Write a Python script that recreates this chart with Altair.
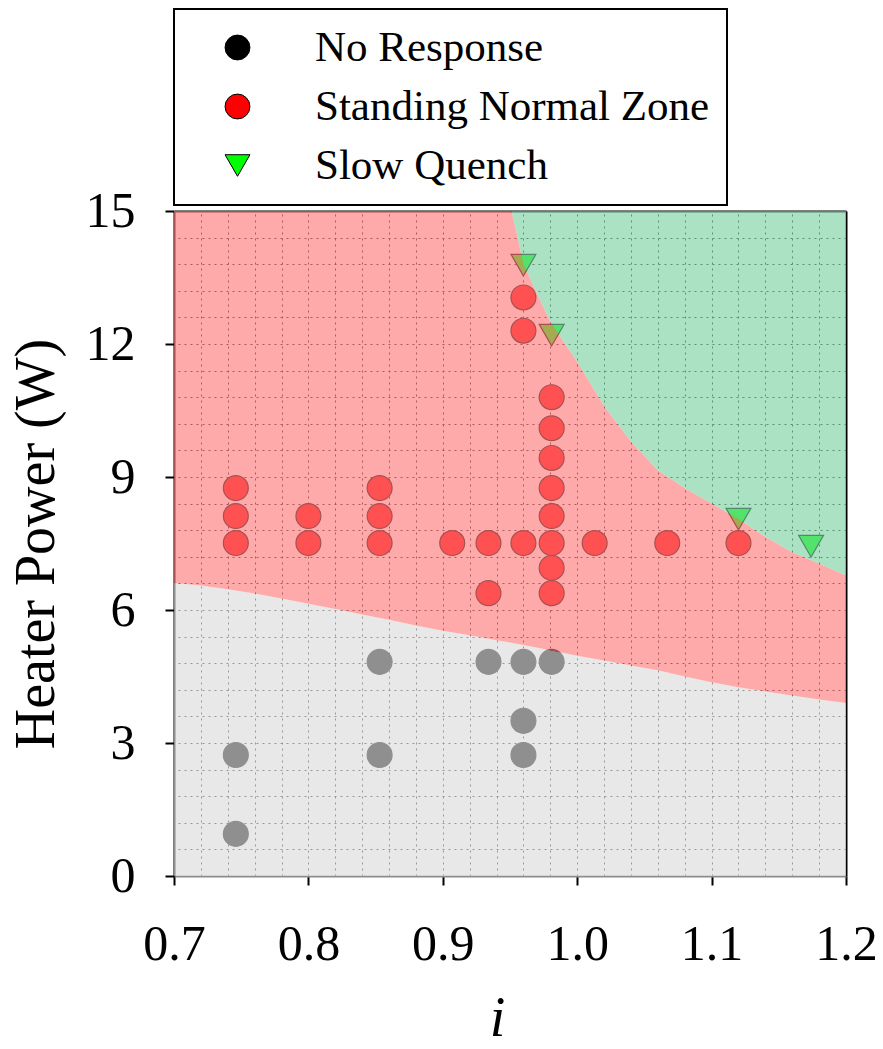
import altair as alt
import pandas as pd

# ---------------- data ----------------
# No Response (black markers)
nr_i = [0.746, 0.746, 0.853, 0.853, 0.934, 0.960, 0.960, 0.960, 0.981]
nr_p = [2.73, 0.95, 4.83, 2.73, 4.83, 4.83, 3.50, 2.73, 4.83]

# Standing Normal Zone (red markers)
snz_i = [0.746, 0.746, 0.746, 0.800, 0.800, 0.853, 0.853, 0.853, 0.907,
         0.934, 0.934, 0.960, 0.960, 0.960,
         0.981, 0.981, 0.981, 0.981, 0.981, 0.981, 0.981, 0.981,
         1.013, 1.067, 1.120]
snz_p = [7.51, 8.12, 8.75, 7.51, 8.12, 7.51, 8.12, 8.75, 7.51,
         7.51, 6.38, 7.51, 12.30, 13.05,
         6.38, 6.95, 7.51, 8.12, 8.75, 9.43, 10.10, 10.80,
         7.51, 7.51, 7.51]

# Slow Quench (green markers)
sq_i = [0.960, 0.981, 1.120, 1.174]
sq_p = [13.78, 12.20, 8.05, 7.44]

categories = ["No Response", "Standing Normal Zone", "Slow Quench"]
cat_colors = ["#000000", "#ff0000", "#00ff00"]
cat_shapes = ["circle", "circle", "triangle-down"]

# Region boundaries read at common i positions
bound_i = [0.70, 0.72, 0.74, 0.76, 0.78, 0.80, 0.82, 0.84, 0.86, 0.88, 0.90,
           0.92, 0.94, 0.951, 0.955, 0.96, 0.98, 1.00, 1.02, 1.04, 1.06,
           1.08, 1.10, 1.12, 1.14, 1.16, 1.18, 1.20]
lower_p = [6.61, 6.55, 6.47, 6.37, 6.26, 6.14, 6.02, 5.90, 5.78, 5.65, 5.53,
           5.43, 5.32, 5.26, 5.24, 5.21, 5.09, 4.97, 4.86, 4.75, 4.64,
           4.50, 4.37, 4.26, 4.16, 4.07, 3.98, 3.90]
upper_p = [15, 15, 15, 15, 15, 15, 15, 15, 15, 15, 15,
           15, 15, 15, 14.5, 13.8, 12.5, 11.6, 10.6, 9.8, 9.15,
           8.75, 8.4, 8.05, 7.65, 7.3, 7.05, 6.78]

x_ticks = [0.7, 0.8, 0.9, 1.0, 1.1, 1.2]
y_ticks = [0, 3, 6, 9, 12, 15]
x_grid = [0.72, 0.74, 0.76, 0.78, 0.80, 0.82, 0.84, 0.86, 0.88, 0.90, 0.92, 0.94,
          0.96, 0.98, 1.00, 1.02, 1.04, 1.06, 1.08, 1.10, 1.12, 1.14, 1.16, 1.18]
y_grid = [0.6, 1.2, 1.8, 2.4, 3.0, 3.6, 4.2, 4.8, 5.4, 6.0, 6.6, 7.2,
          7.8, 8.4, 9.0, 9.6, 10.2, 10.8, 11.4, 12.0, 12.6, 13.2, 13.8, 14.4]

# ---------------- tables ----------------
pts = pd.DataFrame({
    "i": nr_i + snz_i + sq_i,
    "P": nr_p + snz_p + sq_p,
    "Response": [categories[0]] * len(nr_i) + [categories[1]] * len(snz_i) + [categories[2]] * len(sq_i),
})
reg = pd.DataFrame({"i": bound_i, "lower": lower_p, "upper": upper_p})
reg["zero"] = 0
reg["top"] = 15

FONT = "Liberation Serif"
xs = alt.Scale(domain=[0.7, 1.2], nice=False, zero=False)
ys = alt.Scale(domain=[0, 15], nice=False, zero=False)

points = alt.Chart(pts).mark_point(filled=True, size=620, stroke="black",
                                   strokeWidth=1.2, opacity=1).encode(
    x=alt.X("i:Q", scale=xs, axis=alt.Axis(
        orient="bottom", values=x_ticks, format=".1f", grid=False,
        tickSize=9, tickWidth=2, tickColor="black",
        domainColor="#8c8c8c", domainWidth=2,
        labelFont=FONT, labelFontSize=50, labelColor="black", labelPadding=34,
        labelFlush=False, labelOverlap=False,
        title="i", titleFont=FONT, titleFontSize=56, titleFontStyle="italic",
        titleFontWeight="normal", titleColor="black", titlePadding=22,
        titleX=323)),
    y=alt.Y("P:Q", scale=ys, axis=alt.Axis(
        orient="left", values=y_ticks, format="d", grid=False,
        tickSize=9, tickWidth=2, tickColor="black",
        domainColor="black", domainWidth=2,
        labelFont=FONT, labelFontSize=50, labelColor="black", labelPadding=30,
        labelFlush=False, labelOverlap=False,
        title="Heater Power (W)", titleFont=FONT, titleFontSize=56,
        titleFontWeight="normal", titleColor="black", titlePadding=20)),
    color=alt.Color("Response:N", scale=alt.Scale(domain=categories, range=cat_colors),
                    legend=alt.Legend(
                        orient="none", legendX=0, legendY=-202, title=None,
                        labelFont=FONT, labelFontSize=43, labelColor="black",
                        labelLimit=600,
                        padding=17, symbolOffset=25, labelOffset=56, rowPadding=15,
                        strokeColor="black", fillColor="white",
                        symbolSize=620, symbolStrokeColor="black", symbolStrokeWidth=1)),
    shape=alt.Shape("Response:N", scale=alt.Scale(domain=categories, range=cat_shapes),
                    legend=None),
)

base = alt.Chart(reg)
gray = base.mark_area(color="#dcdcdc", opacity=0.65).encode(
    x=alt.X("i:Q", scale=xs, axis=None),
    y=alt.Y("zero:Q", scale=ys, axis=None),
    y2="lower:Q",
)
red = base.mark_area(color="#ff7c7c", opacity=0.65).encode(
    x=alt.X("i:Q", scale=xs, axis=alt.Axis(
        orient="top", values=x_grid, grid=True, gridDash=[2, 4], gridColor="#1a1a1a",
        gridWidth=1, labels=False, ticks=False, domain=True, domainColor="black",
        domainWidth=2, title=None)),
    y=alt.Y("lower:Q", scale=ys, axis=alt.Axis(
        orient="right", values=y_grid, grid=True, gridDash=[2, 4], gridColor="#1a1a1a",
        gridWidth=1, labels=False, ticks=False, domain=True, domainColor="black",
        domainWidth=2, title=None)),
    y2="upper:Q",
)
green = base.mark_area(color="#7fd2a4", opacity=0.65).encode(
    x=alt.X("i:Q", scale=xs, axis=None),
    y=alt.Y("upper:Q", scale=ys, axis=None),
    y2="top:Q",
)

chart = alt.layer(points, gray, red, green).resolve_axis(
    x="independent", y="independent"
).properties(
    width=672, height=665,
    autosize=alt.AutoSizeParams(type="none"),
    padding={"left": 174, "top": 211, "right": 37, "bottom": 173},
    background="white",
).configure_view(stroke=None).configure(font=FONT).configure_legend(strokeWidth=2)

chart.save("out.html", embed_options={"renderer": "svg", "actions": False})
